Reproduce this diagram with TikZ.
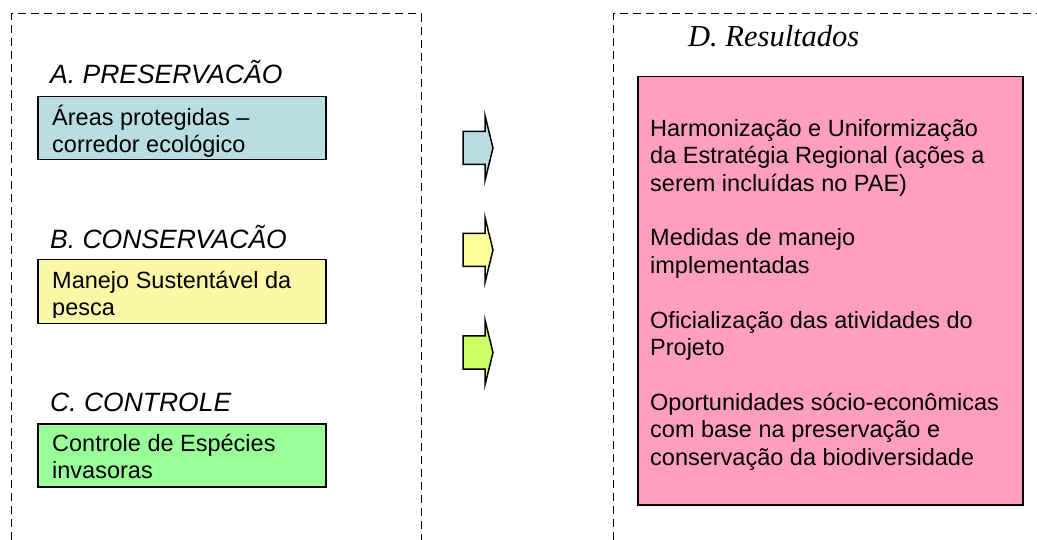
\documentclass[tikz,border=0pt]{standalone}
\usepackage{fontspec}
\setmainfont{Liberation Sans}
\newfontfamily\serifhead{Liberation Serif}
\usepackage{xcolor}
\usetikzlibrary{positioning}

\definecolor{presfill}{RGB}{184,222,225}
\definecolor{consfill}{RGB}{250,247,166}
\definecolor{ctrlfill}{RGB}{153,255,153}
\definecolor{resfill}{RGB}{255,158,191}
\definecolor{arrcyan}{RGB}{184,222,228}
\definecolor{arryellow}{RGB}{255,255,153}
\definecolor{arrgreen}{RGB}{204,255,102}

\begin{document}
\begin{tikzpicture}[
  x=1pt,y=-1pt,
  frame/.style={draw,dash pattern=on 8pt off 5pt,line width=1pt},
  box/.style={draw,line width=1.5pt,anchor=north west,inner sep=0pt},
  % anchored at the baseline of the last line
  boxtext/.style={anchor=base west,align=left,inner sep=0pt,
                  font=\fontsize{23.5}{27.4}\selectfont},
  heading/.style={anchor=base west,inner sep=0pt,
                  font=\fontsize{26.5}{30}\selectfont\itshape},
  blockarrow/.style={draw,line width=1.5pt,line join=miter}
]
\useasboundingbox (0,0) rectangle (1037,540);

% dashed frames
\draw[frame] (11,540) |- (421,14) -- (421,540);
\draw[frame] (613,540) |- (1037,14);

% left column
\node[heading] (headA) at (50,84) {A. PRESERVACÃO};
\node[box,fill=presfill,minimum width=288pt,minimum height=63pt] (boxA) at (37,96) {};
\begin{scope}
  \clip (boxA.north west) rectangle ([yshift=3pt]boxA.south east);
  \node[boxtext] (txtA) at (52,152.5) {Áreas protegidas –\\corredor ecológico};
\end{scope}

\node[heading] (headB) at (50,249) {B. CONSERVACÃO};
\node[box,fill=consfill,minimum width=288pt,minimum height=64pt] (boxB) at (37,259) {};
\begin{scope}
  \clip (boxB.north west) rectangle ([yshift=7pt]boxB.south east);
  \node[boxtext] (txtB) at (52,316) {Manejo Sustentável da\\pesca};
\end{scope}

\node[heading] (headC) at (50,411) {C. CONTROLE};
\node[box,fill=ctrlfill,minimum width=288pt,minimum height=63pt] (boxC) at (37,423) {};
\node[boxtext] (txtC) at (52,478.5) {Controle de Espécies\\invasoras};

% block arrows
\foreach \yc/\col in {148/arrcyan,250/arryellow,352.5/arrgreen}
  \draw[blockarrow,fill=\col] (463,\yc-16.5) -- (485,\yc-16.5) -- (485,\yc-32.5)
    -- (493,\yc) -- (485,\yc+32.5) -- (485,\yc+16.5) -- (463,\yc+16.5) -- cycle;

% right column
\node[anchor=base west,inner sep=0pt,font=\serifhead\itshape\fontsize{30.5}{34}\selectfont]
  (headD) at (688,47) {D. Resultados};
\node[box,fill=resfill,minimum width=385pt,minimum height=428pt] (boxD) at (637,76) {};
\node[boxtext] (txtD) at (650,465) {Harmonização e Uniformização\\
  da Estratégia Regional (ações a\\serem incluídas no PAE)\\[27.4pt]
  Medidas de manejo\\implementadas\\[27.4pt]
  Oficialização das atividades do\\Projeto\\[27.4pt]
  Oportunidades sócio-econômicas\\com base na preservação e\\
  conservação da biodiversidade};
\end{tikzpicture}
\end{document}
